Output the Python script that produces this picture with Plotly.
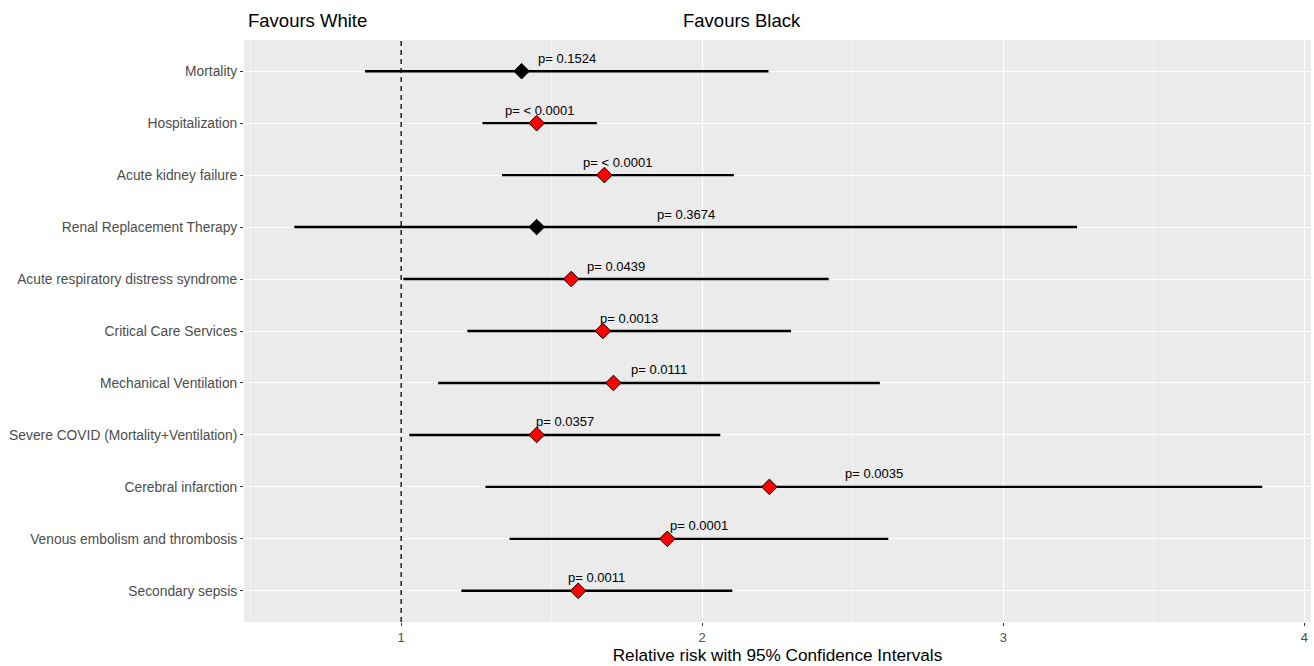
import plotly.graph_objects as go

outcomes = ["Mortality", "Hospitalization", "Acute kidney failure", "Renal Replacement Therapy",
            "Acute respiratory distress syndrome", "Critical Care Services", "Mechanical Ventilation",
            "Severe COVID (Mortality+Ventilation)", "Cerebral infarction",
            "Venous embolism and thrombosis", "Secondary sepsis"]
rr = [1.40, 1.45, 1.675, 1.45, 1.565, 1.67, 1.705, 1.45, 2.223, 1.884, 1.588]
lower = [0.88, 1.27, 1.335, 0.645, 1.007, 1.22, 1.123, 1.027, 1.28, 1.36, 1.20]
upper = [2.22, 1.65, 2.105, 3.245, 2.42, 2.295, 2.59, 2.06, 3.86, 2.618, 2.10]
pvals = ["0.1524", "< 0.0001", "< 0.0001", "0.3674", "0.0439", "0.0013", "0.0111",
         "0.0357", "0.0035", "0.0001", "0.0011"]
significant = [False, True, True, False, True, True, True, True, True, True, True]
x_ticks = [1, 2, 3, 4]

font = "Arial, Liberation Sans, sans-serif"

fig = go.Figure()

# confidence interval lines
fig.add_trace(go.Scatter(
    x=rr, y=outcomes, mode="markers",
    marker=dict(size=0.1, color="rgba(0,0,0,0)"),
    error_x=dict(type="data", symmetric=False,
                 array=[u - r for u, r in zip(upper, rr)],
                 arrayminus=[r - l for r, l in zip(rr, lower)],
                 color="black", thickness=2.4, width=0),
    hoverinfo="skip", showlegend=False))

colors = ["red" if s else "black" for s in significant]
fig.add_trace(go.Scatter(
    x=rr, y=outcomes, mode="markers",
    marker=dict(symbol="diamond", size=12, color=colors, line=dict(color="black", width=1)),
    showlegend=False))

for o, l, u, p in zip(outcomes, lower, upper, pvals):
    fig.add_annotation(x=(l + u) / 2, y=o, text="p= " + p, showarrow=False,
                       yshift=13, font=dict(family=font, size=13, color="black"))

fig.add_vline(x=1, line=dict(color="black", width=1.3, dash="5px,4px"))

fig.add_annotation(x=0.002, xref="paper", y=1.012, yref="paper", xanchor="left", yanchor="bottom",
                   text="Favours White", showarrow=False, font=dict(family=font, size=18.5, color="black"))
fig.add_annotation(x=0.467, xref="paper", y=1.012, yref="paper", xanchor="center", yanchor="bottom",
                   text="Favours Black", showarrow=False, font=dict(family=font, size=18.5, color="black"))

fig.update_layout(
    width=1314, height=666,
    margin=dict(l=244, r=3, t=40, b=44),
    plot_bgcolor="#ebebeb", paper_bgcolor="white",
    font=dict(family=font),
    xaxis=dict(range=[0.478, 4.022], tickvals=x_ticks, ticks="outside", ticklen=3,
               tickcolor="#333333", tickfont=dict(size=13, color="#4d4d4d"),
               gridcolor="white", gridwidth=1.2, zeroline=False, automargin=False,
               minor=dict(tickvals=[0.5, 1.5, 2.5, 3.5], showgrid=True, gridcolor="#f5f5f5", gridwidth=0.6, ticks=""),
               title=dict(text="Relative risk with 95% Confidence Intervals", font=dict(size=17.2, color="black"), standoff=4)),
    yaxis=dict(type="category", categoryorder="array", categoryarray=outcomes,
               range=[10.6, -0.6], ticks="outside", ticklen=3, tickcolor="#333333",
               tickfont=dict(size=13.8, color="#4d4d4d"), gridcolor="white", gridwidth=1.2,
               zeroline=False, automargin=False),
)

fig.write_html("out.html", config={"displayModeBar": False},
               post_script="document.body.style.margin='0';document.body.style.overflow='hidden';")
